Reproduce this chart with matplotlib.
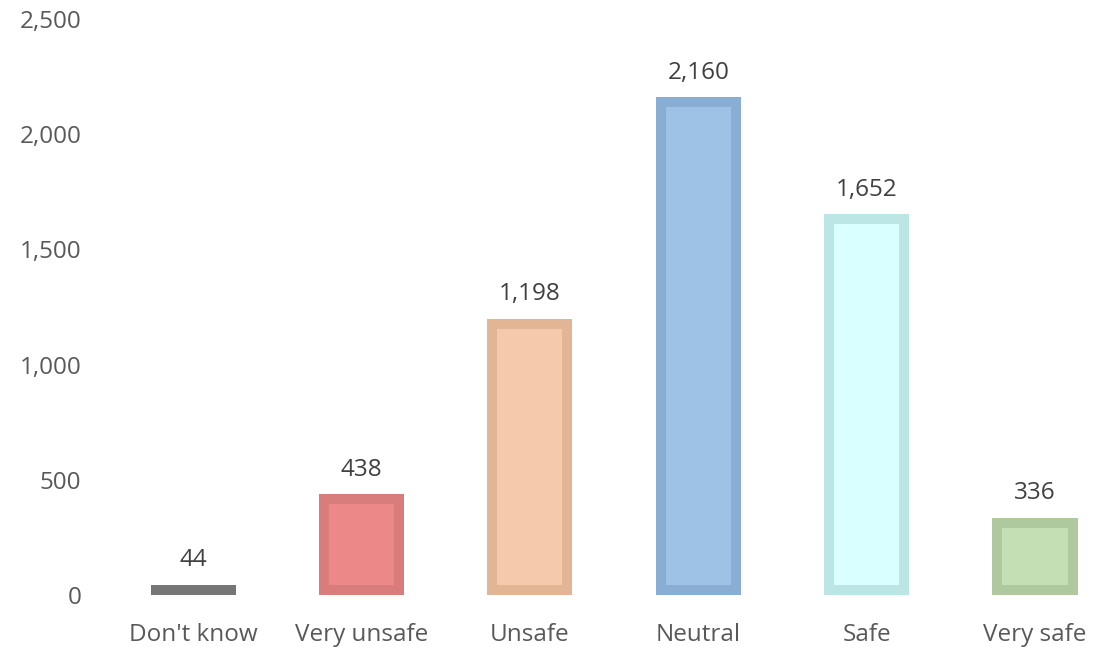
import matplotlib.pyplot as plt
import numpy as np

categories = ["Don't know", "Very unsafe", "Unsafe", "Neutral", "Safe", "Very safe"]
counts = [44, 438, 1198, 2160, 1652, 336]
edge_colors = ['#767676', '#d97c7c', '#e2b595', '#8aaed3', '#bce5e5', '#afc99e']
fill_colors = ['#767676', '#ec8888', '#f5caab', '#9dc2e6', '#d9ffff', '#c4dfb4']

plt.rcParams['font.family'] = ['Open Sans', 'DejaVu Sans']

W, H = 1093, 647
fig = plt.figure(figsize=(W / 100, H / 100), dpi=100)
ax_left, ax_bottom, ax_top = 109, 595, 19
ax = fig.add_axes([ax_left / W, (H - ax_bottom) / H, 1 - ax_left / W, (ax_bottom - ax_top) / H])

x = np.arange(len(categories))
ax.set_xlim(-0.5, (W - 193) / 168.4)
ax.set_ylim(0, 2500)

bw = 0.505
# inset of inner (lighter) fill, in pixels -> data units
inset_px = 10
px_per_x = 168.4
px_per_y = (ax_bottom - ax_top) / 2500
dx = inset_px / px_per_x
dy = inset_px / px_per_y

ax.bar(x, counts, width=bw, color=edge_colors, linewidth=0)
for xi, v, c in zip(x, counts, fill_colors):
    h = v - 2 * dy
    if h > 0:
        ax.bar(xi, h, bottom=dy, width=bw - 2 * dx, color=c, linewidth=0)

for xi, v in zip(x, counts):
    ax.annotate(f'{v:,}', (xi, v), xytext=(0, 9), textcoords='offset points',
                ha='center', va='bottom', fontsize=17.5, color='#404040')

ax.set_xticks(x)
ax.set_xticklabels(categories)
ax.set_yticks(np.arange(0, 2501, 500))
ax.yaxis.set_major_formatter(plt.FuncFormatter(lambda v, p: f'{int(v):,}'))
ax.tick_params(axis='both', length=0, labelsize=17.5, labelcolor='#595959')
ax.tick_params(axis='y', pad=20)
ax.tick_params(axis='x', pad=20)
for s in ax.spines.values():
    s.set_visible(False)

fig.savefig('out.png', dpi=100)
